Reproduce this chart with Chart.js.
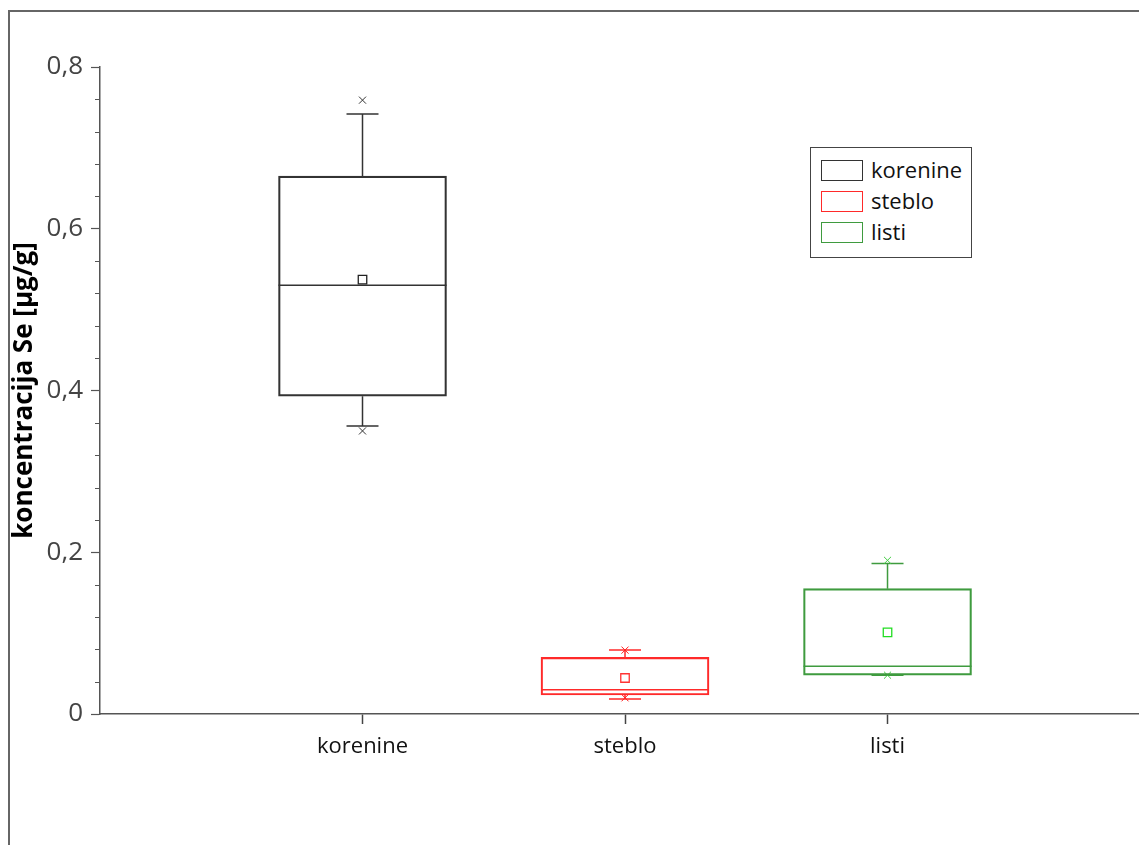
<!DOCTYPE html>
<html>
<head>
<meta charset="utf-8">
<script src="https://cdn.jsdelivr.net/npm/chart.js@4.4.1/dist/chart.umd.min.js"></script>
<style>
    html, body { margin: 0; padding: 0; background: #fff; }
    #wrap { position: relative; width: 1139px; height: 845px; overflow: hidden; }
    #frame { position: absolute; left: 8px; top: 10px; right: -4px; bottom: -4px; border-top: 2px solid #666; border-left: 2px solid #666; }
    #myChart { position: absolute; left: 0; top: 0; }
    #legend { position: absolute; left: 810px; top: 147px; width: 160px; height: 109px; border: 1.5px solid #444; background: #fff;
        font-family: "Open Sans", sans-serif; font-size: 22px; color: #111; }
    .item { position: absolute; left: 10px; height: 24px; line-height: 24px; }
    .item span { display: inline-block; width: 40px; height: 19px; border: 1.5px solid; vertical-align: middle; margin-right: 8px; margin-top: -3px; }
</style>
</head>
<body>
<div id="wrap">
    <div id="frame"></div>
    <canvas id="myChart" width="1139" height="845"></canvas>
    <div id="legend"></div>
</div>
<script>
const categories = ["korenine", "steblo", "listi"];
const whiskerLow = [0.356, 0.0185, 0.048];
const q1 = [0.393, 0.0235, 0.048];
const median = [0.530, 0.030, 0.059];
const q3 = [0.665, 0.070, 0.155];
const whiskerHigh = [0.742, 0.079, 0.186];
const means = [0.537, 0.0445, 0.101];
const minValues = [0.350, 0.020, 0.048];
const maxValues = [0.759, 0.079, 0.190];

const boxColors = ["#333333", "#ff2a2a", "#3f9b3f"];
const meanColors = ["#222222", "#ff3333", "#22dd22"];
const markColors = ["#333333", "#ff2020", "#44cc44"];

const yLabel = "koncentracija Se [µg/g]";

// whiskers, caps, medians and minor y ticks
const boxExtras = {
    id: "boxExtras",
    beforeDatasetsDraw(chart) {
        const { ctx, scales: { x, y } } = chart;
        ctx.save();
        ctx.lineWidth = 1.5;
        categories.forEach((name, i) => {
            const cx = x.getPixelForValue(i + 1);
            ctx.strokeStyle = boxColors[i];
            ctx.beginPath();
            ctx.moveTo(cx, y.getPixelForValue(q3[i]));
            ctx.lineTo(cx, y.getPixelForValue(whiskerHigh[i]));
            ctx.moveTo(cx, y.getPixelForValue(q1[i]));
            ctx.lineTo(cx, y.getPixelForValue(whiskerLow[i]));
            [whiskerHigh[i], whiskerLow[i]].forEach((v) => {
                const py = y.getPixelForValue(v);
                ctx.moveTo(cx - 16, py);
                ctx.lineTo(cx + 16, py);
            });
            const my = y.getPixelForValue(median[i]);
            ctx.moveTo(cx - 84, my);
            ctx.lineTo(cx + 84, my);
            ctx.stroke();
        });

        ctx.strokeStyle = "#555";
        ctx.lineWidth = 1.2;
        ctx.beginPath();
        for (let k = 1; k < 20; k++) {
            if (k % 5 === 0) continue;
            const py = Math.round(y.getPixelForValue(k * 0.04)) + 0.5;
            ctx.moveTo(y.right - 5, py);
            ctx.lineTo(y.right, py);
        }
        ctx.stroke();
        ctx.restore();
    },
};

const datasets = [];
categories.forEach((name, i) => {
    datasets.push({
        type: "bar",
        label: name,
        data: [{ x: i + 1, y: [q1[i], q3[i]] }],
        backgroundColor: "rgba(0,0,0,0)",
        borderColor: boxColors[i],
        borderWidth: 1.5,
        borderSkipped: false,
        barThickness: 168,
        grouped: false,
    });
});
categories.forEach((name, i) => {
    datasets.push({
        type: "scatter",
        label: name + " mean",
        data: [{ x: i + 1, y: means[i] }],
        pointStyle: "rect",
        radius: 6,
        borderWidth: 1.3,
        borderColor: meanColors[i],
        backgroundColor: "#fff",
    });
    datasets.push({
        type: "scatter",
        label: name + " min/max",
        data: [
            { x: i + 1, y: minValues[i] },
            { x: i + 1, y: maxValues[i] },
        ],
        pointStyle: "crossRot",
        radius: 5,
        borderWidth: 1,
        borderColor: markColors[i],
    });
});

new Chart(document.getElementById("myChart"), {
    type: "bar",
    data: { datasets },
    plugins: [boxExtras],
    options: {
        responsive: false,
        animation: false,
        layout: { autoPadding: false, padding: { left: 0, top: 67, right: 0, bottom: 0 } },
        plugins: {
            legend: { display: false },
            tooltip: { enabled: false },
        },
        scales: {
            x: {
                type: "linear",
                min: 0,
                max: 3.958,
                offset: false,
                afterBuildTicks: (scale) => {
                    scale.ticks = categories.map((c, i) => ({ value: i + 1 }));
                },
                afterFit: (scale) => {
                    scale.height = 131;
                    scale.paddingLeft = 0;
                    scale.paddingRight = 0;
                },
                ticks: {
                    callback: (v) => categories[v - 1],
                    font: { family: "Open Sans", size: 22 },
                    color: "#111",
                    padding: 10,
                    maxRotation: 0,
                },
                grid: { offset: false, drawOnChartArea: false, tickLength: 10, tickColor: "#444", tickWidth: 1.5 },
                border: { color: "#555", width: 1.5 },
            },
            y: {
                min: 0,
                max: 0.8,
                afterFit: (scale) => {
                    scale.width = 100;
                },
                ticks: {
                    stepSize: 0.2,
                    callback: (v) => (v === 0 ? "0" : v.toFixed(1).replace(".", ",")),
                    font: { family: "Open Sans", size: 26 },
                    color: "#444",
                    padding: 8,
                },
                grid: { drawOnChartArea: false, tickLength: 9, tickColor: "#555", tickWidth: 1.2 },
                border: { color: "#555", width: 1.5 },
                title: {
                    display: true,
                    text: yLabel,
                    font: { family: "Open Sans", size: 26, weight: "bold" },
                    color: "#000",
                    padding: { top: 9, bottom: 0 },
                },
            },
        },
    },
});

const legend = document.getElementById("legend");
categories.forEach((name, i) => {
    const row = document.createElement("div");
    row.className = "item";
    row.style.top = 9 + i * 31 + "px";
    row.innerHTML = '<span style="border-color:' + boxColors[i] + '"></span>' + name;
    legend.appendChild(row);
});
</script>
</body>
</html>
